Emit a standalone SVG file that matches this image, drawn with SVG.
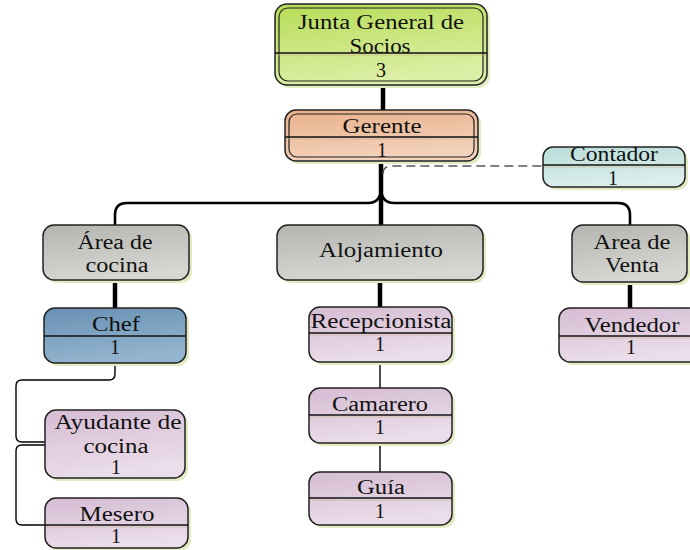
<svg xmlns="http://www.w3.org/2000/svg" width="690" height="550" viewBox="0 0 690 550">
<defs>
<linearGradient id="gGreen" x1="0" y1="0" x2="0.3" y2="1"><stop offset="0" stop-color="#b6dc55"/><stop offset="1" stop-color="#dcefa6"/></linearGradient>
<linearGradient id="gPeach" x1="0" y1="0" x2="0.3" y2="1"><stop offset="0" stop-color="#e8b08a"/><stop offset="1" stop-color="#f3d2bc"/></linearGradient>
<linearGradient id="gTeal" x1="0" y1="0" x2="0.3" y2="1"><stop offset="0" stop-color="#b9ddd9"/><stop offset="1" stop-color="#dbeeec"/></linearGradient>
<linearGradient id="gGray" x1="0" y1="0" x2="0.3" y2="1"><stop offset="0" stop-color="#b4b5b0"/><stop offset="1" stop-color="#d6d7d2"/></linearGradient>
<linearGradient id="gBlue" x1="0" y1="0" x2="0.3" y2="1"><stop offset="0" stop-color="#6890b3"/><stop offset="1" stop-color="#93b4ce"/></linearGradient>
<linearGradient id="gPink" x1="0" y1="0" x2="0.3" y2="1"><stop offset="0" stop-color="#d5bcd3"/><stop offset="1" stop-color="#ebdde9"/></linearGradient>
</defs>
<style>
.box{stroke:#222;stroke-width:1.5}
.inner{fill:none;stroke:#222;stroke-width:1.2}
.shadow{fill:#e2ebc2}
.div{stroke:#111;stroke-width:1.4}
.div2{stroke:#c9b48f;stroke-width:1.2;opacity:0.6}
text{font-family:"Liberation Serif","Times New Roman",serif;font-size:20px;fill:#111;text-anchor:middle}
.thick{fill:none;stroke:#000;stroke-width:4.5}
.bus{fill:none;stroke:#000;stroke-width:2.6}
.thin{fill:none;stroke:#000;stroke-width:1.4}
.dash{fill:none;stroke:#555;stroke-width:1.6;stroke-dasharray:9 5}
</style>
<g id="connectors">
<path class="thick" d="M383,85 V110"/>
<path class="thick" d="M381,161 V225"/>
<path class="bus" d="M381,188 Q381,203 368,203 H127 Q115,203 115,215 V225"/>
<path class="bus" d="M381,188 Q381,203 394,203 H618 Q630,203 630,215 V225"/>
<path class="thick" d="M115,280 V308"/>
<path class="thick" d="M380,280 V307"/>
<path class="thick" d="M630,282 V308"/>
<path class="dash" d="M383,174 Q383,166 391,166 H543"/>
<path class="thin" d="M115,363 V374 Q115,380 109,380 H22 Q16,380 16,386 V436 Q16,442 22,442 H45"/>
<path class="thin" d="M45,445 H22 Q16,445 16,451 V519 Q16,525 22,525 H45"/>
<path class="thin" d="M380,362 V388"/>
<path class="thin" d="M380,443 V472"/>
</g>
<g id="junta">
<rect class="shadow" x="278" y="7" width="212" height="81" rx="12"/>
<rect class="box" x="275" y="4" width="212" height="81" rx="12" fill="url(#gGreen)"/>
<rect class="inner" x="279" y="8" width="204" height="73" rx="9"/>
<line class="div" x1="275" y1="53" x2="487" y2="53"/>
<line class="div2" x1="276" y1="55" x2="486" y2="55"/>
<text x="381" y="29" textLength="166" lengthAdjust="spacingAndGlyphs">Junta General de</text>
<text x="380" y="53" textLength="61" lengthAdjust="spacingAndGlyphs">Socios</text>
<text x="381" y="77">3</text>
</g>
<g id="gerente">
<rect class="shadow" x="288" y="113" width="193" height="51" rx="11"/>
<rect class="box" x="285" y="110" width="193" height="51" rx="11" fill="url(#gPeach)"/>
<rect class="inner" x="289" y="114" width="185" height="43" rx="8"/>
<line class="div" x1="285" y1="137" x2="478" y2="137"/>
<line class="div2" x1="286" y1="139" x2="477" y2="139"/>
<text x="382" y="133" textLength="79" lengthAdjust="spacingAndGlyphs">Gerente</text>
<text x="382" y="157">1</text>
</g>
<g id="contador">
<rect class="shadow" x="546" y="150" width="142" height="40" rx="10"/>
<rect class="box" x="543" y="147" width="142" height="40" rx="10" fill="url(#gTeal)"/>
<line class="div" x1="543" y1="165" x2="685" y2="165"/>
<line class="div2" x1="544" y1="167" x2="684" y2="167"/>
<text x="614" y="161" textLength="88" lengthAdjust="spacingAndGlyphs">Contador</text>
<text x="613" y="185">1</text>
</g>
<g id="area-cocina">
<rect class="shadow" x="46" y="228" width="146" height="55" rx="11"/>
<rect class="box" x="43" y="225" width="146" height="55" rx="11" fill="url(#gGray)"/>
<text x="115" y="249" textLength="75" lengthAdjust="spacingAndGlyphs">Área de</text>
<text x="117" y="272" textLength="63" lengthAdjust="spacingAndGlyphs">cocina</text>
</g>
<g id="alojamiento">
<rect class="shadow" x="280" y="228" width="206" height="55" rx="11"/>
<rect class="box" x="277" y="225" width="206" height="55" rx="11" fill="url(#gGray)"/>
<text x="381" y="257" textLength="124" lengthAdjust="spacingAndGlyphs">Alojamiento</text>
</g>
<g id="area-venta">
<rect class="shadow" x="575" y="228" width="115" height="57" rx="11"/>
<rect class="box" x="572" y="225" width="115" height="57" rx="11" fill="url(#gGray)"/>
<text x="632" y="249" textLength="77" lengthAdjust="spacingAndGlyphs">Area de</text>
<text x="632" y="272" textLength="54" lengthAdjust="spacingAndGlyphs">Venta</text>
</g>
<g id="chef">
<rect class="shadow" x="47" y="311" width="142" height="55" rx="11"/>
<rect class="box" x="44" y="308" width="142" height="55" rx="11" fill="url(#gBlue)"/>
<line class="div" x1="44" y1="336" x2="186" y2="336"/>
<text x="116" y="331" textLength="48" lengthAdjust="spacingAndGlyphs">Chef</text>
<text x="115" y="354">1</text>
</g>
<g id="recepcionista">
<rect class="shadow" x="312" y="310" width="143" height="55" rx="11"/>
<rect class="box" x="309" y="307" width="143" height="55" rx="11" fill="url(#gPink)"/>
<line class="div" x1="309" y1="333" x2="452" y2="333"/>
<line class="div2" x1="310" y1="335" x2="451" y2="335"/>
<text x="381" y="328" textLength="141" lengthAdjust="spacingAndGlyphs">Recepcionista</text>
<text x="380" y="351">1</text>
</g>
<g id="vendedor">
<rect class="shadow" x="562" y="311" width="145" height="54" rx="11"/>
<rect class="box" x="559" y="308" width="145" height="54" rx="11" fill="url(#gPink)"/>
<line class="div" x1="559" y1="336" x2="704" y2="336"/>
<line class="div2" x1="560" y1="338" x2="703" y2="338"/>
<text x="632" y="332" textLength="95" lengthAdjust="spacingAndGlyphs">Vendedor</text>
<text x="631" y="354">1</text>
</g>
<g id="camarero">
<rect class="shadow" x="312" y="391" width="143" height="55" rx="11"/>
<rect class="box" x="309" y="388" width="143" height="55" rx="11" fill="url(#gPink)"/>
<line class="div" x1="309" y1="415" x2="452" y2="415"/>
<line class="div2" x1="310" y1="417" x2="451" y2="417"/>
<text x="380" y="411" textLength="96" lengthAdjust="spacingAndGlyphs">Camarero</text>
<text x="380" y="434">1</text>
</g>
<g id="guia">
<rect class="shadow" x="312" y="475" width="143" height="53" rx="11"/>
<rect class="box" x="309" y="472" width="143" height="53" rx="11" fill="url(#gPink)"/>
<line class="div" x1="309" y1="498" x2="452" y2="498"/>
<line class="div2" x1="310" y1="500" x2="451" y2="500"/>
<text x="381" y="494" textLength="48" lengthAdjust="spacingAndGlyphs">Guía</text>
<text x="380" y="518">1</text>
</g>
<g id="ayudante">
<rect class="shadow" x="48" y="413" width="140" height="68" rx="11"/>
<rect class="box" x="45" y="410" width="140" height="68" rx="11" fill="url(#gPink)"/>
<text x="118" y="429" textLength="127" lengthAdjust="spacingAndGlyphs">Ayudante de</text>
<text x="116" y="453" textLength="65" lengthAdjust="spacingAndGlyphs">cocina</text>
<text x="116" y="474">1</text>
</g>
<g id="mesero">
<rect class="shadow" x="48" y="501" width="143" height="50" rx="11"/>
<rect class="box" x="45" y="498" width="143" height="50" rx="11" fill="url(#gPink)"/>
<line class="div" x1="45" y1="525" x2="188" y2="525"/>
<line class="div2" x1="46" y1="527" x2="187" y2="527"/>
<text x="117" y="521" textLength="75" lengthAdjust="spacingAndGlyphs">Mesero</text>
<text x="116" y="543">1</text>
</g>
</svg>
